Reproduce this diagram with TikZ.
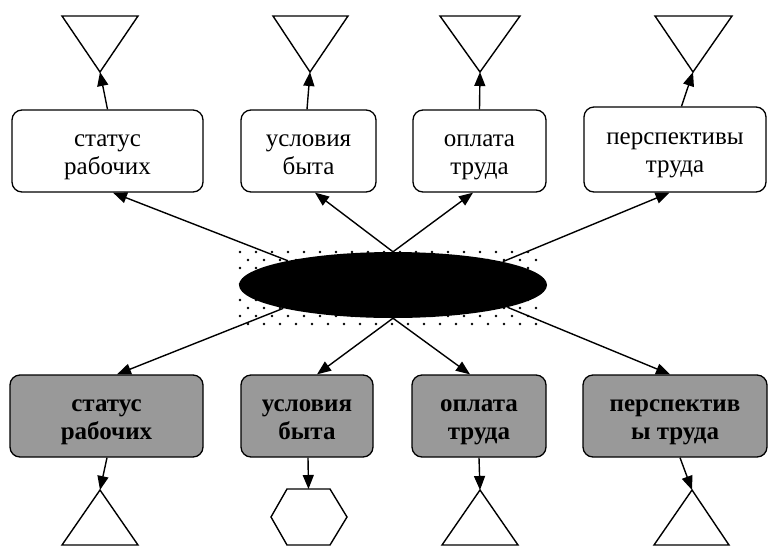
\documentclass[tikz,border=0pt]{standalone}
\usepackage{fontspec}
\setmainfont{Liberation Serif}
\usetikzlibrary{arrows.meta,shapes.geometric,calc}

% struts that set the two text lines a little below the box centre
\newcommand{\firstrow}{\rule{0pt}{24pt}}
\newcommand{\lastrow}{\rule[-4.5pt]{0pt}{4.5pt}}

\begin{document}
\begin{tikzpicture}[x=1pt,y=-1pt,
  box/.style={draw=black, line width=1.3pt, rounded corners=10pt, align=center,
    inner sep=0pt, font=\fontsize{25}{28}\selectfont},
  topbox/.style={box, fill=white},
  lowbox/.style={box, fill=black!40, font=\fontsize{25}{28}\selectfont\bfseries},
  link/.style={line width=1.4pt, -{Triangle[length=14pt,width=11pt]}},
  figure/.style={line width=1.4pt, line join=miter},
  dotcol/.style={fill=black}
]
\useasboundingbox (0,0) rectangle (768,547);

% dotted backdrop behind the central ellipse
\foreach \r in {0,...,9}{
  \pgfmathsetmacro{\yy}{252+8*\r}
  \pgfmathsetmacro{\xo}{mod(\r,2)*8}
  \foreach \c in {0,...,18}{
    \fill[dotcol] (240+\xo+16*\c,\yy) circle[radius=1.3pt];
  }
}

% central ellipse
\node[ellipse, fill=black, minimum width=308pt, minimum height=66pt, inner sep=0pt] (e) at (393,285) {};

% upper row of boxes
\node[topbox, minimum width=191pt, minimum height=82pt] (t1) at (107.5,151) {\firstrow статус\\рабочих\lastrow};
\node[topbox, minimum width=135pt, minimum height=82pt] (t2) at (308.5,151) {\firstrow условия\\быта\lastrow};
\node[topbox, minimum width=133pt, minimum height=82pt] (t3) at (479.5,151) {\firstrow оплата\\труда\lastrow};
\node[topbox, minimum width=182pt, minimum height=85pt] (t4) at (675,149.5) {\firstrow перспективы\\труда\lastrow};

% lower row of boxes
\node[lowbox, minimum width=193pt, minimum height=82pt] (l1) at (106.5,416) {\firstrow статус\\рабочих\lastrow};
\node[lowbox, minimum width=132pt, minimum height=82pt] (l2) at (307,416) {\firstrow условия\\быта\lastrow};
\node[lowbox, minimum width=134pt, minimum height=82pt] (l3) at (479,416) {\firstrow оплата\\труда\lastrow};
\node[lowbox, minimum width=184pt, minimum height=82pt] (l4) at (675,416) {\firstrow перспектив\\ы труда\lastrow};

% connectors from the ellipse to the boxes
\draw[link] (e.167.5) -- ([xshift=5.5pt]t1.south);
\draw[link] (e.north) -- ([xshift=6.5pt]t2.south);
\draw[link] (e.north) -- ([xshift=-6.5pt]t3.south);
\draw[link] (e.12.4) -- ([xshift=-5.5pt]t4.south);
\draw[link] (e.192.5) -- ([xshift=10.5pt]l1.north);
\draw[link] (e.south) -- ([xshift=10pt]l2.north);
\draw[link] (e.south) -- ([xshift=-9pt]l3.north);
\draw[link] (e.-11) -- ([xshift=-5pt]l4.north);

% inverted triangles above the upper boxes
\coordinate (a1) at (100,72);
\coordinate (a2) at (310,72);
\coordinate (a3) at (480,72);
\coordinate (a4) at (693,72);
\draw[figure] (62,16) -- (138,16) -- (a1) -- cycle;
\draw[figure] (273,16) -- (348,16) -- (a2) -- cycle;
\draw[figure] (440,16) -- (520,16) -- (a3) -- cycle;
\draw[figure] (655,16) -- (732,16) -- (a4) -- cycle;
\draw[link] (t1.north) -- (a1);
\draw[link] ([xshift=-1.5pt]t2.north) -- (a2);
\draw[link] (t3.north) -- (a3);
\draw[link] ([xshift=6.5pt]t4.north) -- (a4);

% figures below the lower boxes
\coordinate (b1) at (100,490);
\coordinate (h) at (308.5,489);
\coordinate (b3) at (480,490);
\coordinate (b4) at (692,490);
\draw[figure] (b1) -- (138,545) -- (62,545) -- cycle;
\draw[figure] (287,489) -- (330,489) -- (347,517) -- (330,545) -- (287,545) -- (271,517) -- cycle;
\draw[figure] (b3) -- (518,545) -- (442,545) -- cycle;
\draw[figure] (b4) -- (729,545) -- (654,545) -- cycle;
\draw[link] ([xshift=0.5pt]l1.south) -- (b1);
\draw[link] ([xshift=1pt]l2.south) -- (h);
\draw[link] (l3.south) -- (b3);
\draw[link] ([xshift=5pt]l4.south) -- (b4);
\end{tikzpicture}
\end{document}
